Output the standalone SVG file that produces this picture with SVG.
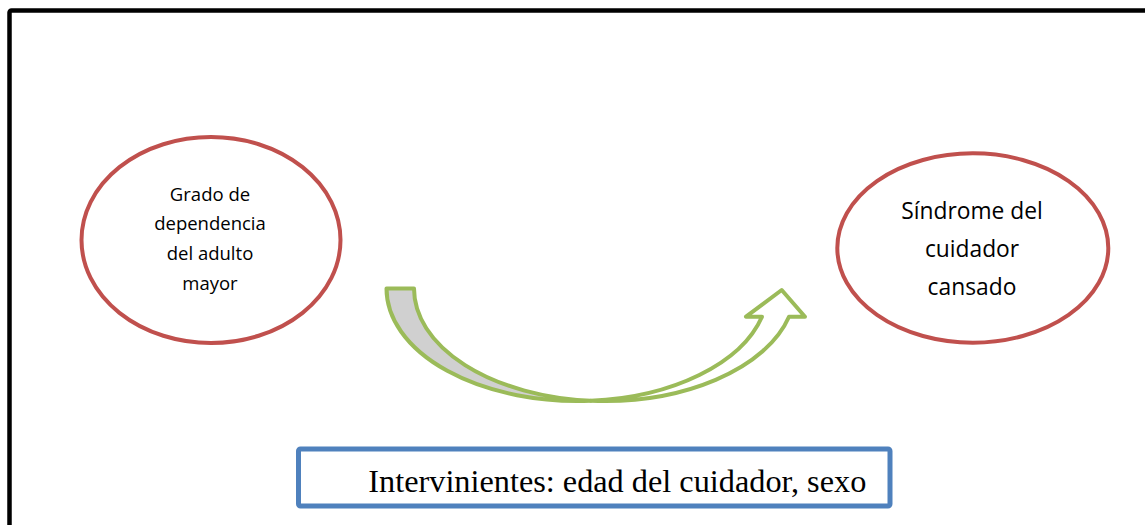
<svg xmlns="http://www.w3.org/2000/svg" width="1145" height="525" viewBox="0 0 1145 525">
<style>
.node-ellipse{fill:#FFFFFF;stroke:#C0504D;stroke-width:4}
.lbl{font-family:"Open Sans","Noto Sans",sans-serif;fill:#000000;text-anchor:middle}
.arrow{stroke:#9BBB59;stroke-width:4;stroke-linejoin:round}
.box{fill:#FFFFFF;stroke:#4F81BD;stroke-width:5;stroke-linejoin:round}
.boxtxt{font-family:"Liberation Serif","Times New Roman",serif;font-size:32px;fill:#000000}
</style>
<rect x="0" y="0" width="1145" height="525" fill="#FFFFFF"/>
<rect id="frame" x="9.5" y="10.5" width="1150" height="530" fill="none" stroke="#000000" stroke-width="4.5" rx="2"/>
<g id="node-grado">
<ellipse class="node-ellipse" cx="211" cy="240" rx="129.5" ry="103"/>
<text class="lbl" font-size="18.5" x="210" y="200.5">Grado de</text>
<text class="lbl" font-size="18.5" x="210" y="230.3">dependencia</text>
<text class="lbl" font-size="18.5" x="210" y="260.2">del adulto</text>
<text class="lbl" font-size="18.5" x="210" y="290">mayor</text>
</g>
<g id="node-sindrome">
<ellipse class="node-ellipse" cx="972.8" cy="248" rx="135.5" ry="94.7"/>
<text class="lbl" font-size="22.8" x="972" y="219.3">Síndrome del</text>
<text class="lbl" font-size="22.8" x="972" y="257.3">cuidador</text>
<text class="lbl" font-size="22.8" x="972" y="295">cansado</text>
</g>
<g id="connectors">
<path class="arrow" fill="#D0D0D0" d="M 386.5 288.5 L 414 288.5 A 190.8 112.5 0 0 0 590.8 400.7 A 190.8 112.5 0 0 1 386.5 288.5 Z"/>
<path class="arrow" fill="#FFFFFF" d="M 590.8 400.7 A 190.8 112.5 0 0 0 789 316.7 L 805 316.7 L 781.7 290 L 746 316.7 L 762 316.7 A 190.8 112.5 0 0 1 590.8 400.7 Z"/>
</g>
<g id="node-intervinientes">
<rect class="box" x="298.5" y="449" width="591.5" height="57" rx="2"/>
<text class="boxtxt" x="368.3" y="491.7" textLength="498" lengthAdjust="spacingAndGlyphs">Intervinientes: edad del cuidador, sexo</text>
</g>
</svg>
